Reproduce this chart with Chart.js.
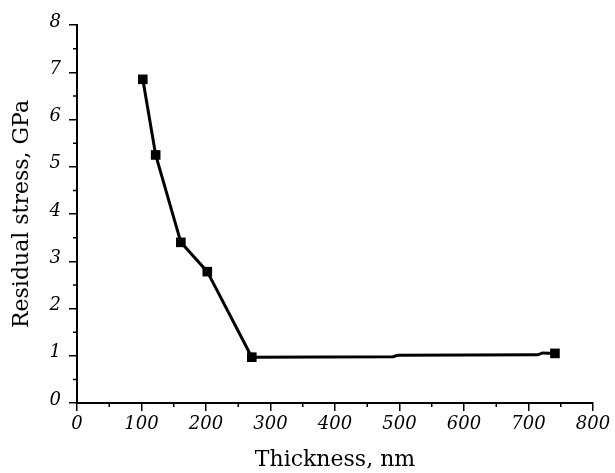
<!DOCTYPE html>
<html>
<head>
<meta charset="utf-8">
<script src="https://cdn.jsdelivr.net/npm/chart.js@4/dist/chart.umd.min.js"></script>
<style>
  html, body { margin: 0; padding: 0; background: #fff; }
  #wrap { width: 615px; height: 473px; }
</style>
</head>
<body>
<div id="wrap"><canvas id="c"></canvas></div>
<script>
// thickness (nm) and residual stress (GPa)
// points with a marker, plus a few unmarked ones where the line steps slightly
const thickness = [102, 122, 161, 202, 271, 490, 497, 714, 722, 741];
const stress    = [6.85, 5.25, 3.4, 2.78, 0.97, 0.98, 1.01, 1.02, 1.06, 1.05];
const marked    = [true, true, true, true, true, false, false, false, false, true];

const xTicks = [0, 100, 200, 300, 400, 500, 600, 700, 800];
const yTicks = [0, 1, 2, 3, 4, 5, 6, 7, 8];

const tickFont = { family: 'DejaVu Serif', size: 18, style: 'italic' };
const titleFont = { family: 'DejaVu Serif', size: 22 };

// small ticks halfway between the labelled ones
const minorTicks = {
  id: 'minorTicks',
  afterDraw(chart) {
    const { ctx, scales: { x, y } } = chart;
    ctx.save();
    ctx.strokeStyle = '#000';
    ctx.lineWidth = 1.5;
    ctx.beginPath();
    for (let i = 0; i < xTicks.length - 1; i++) {
      const px = x.getPixelForValue((xTicks[i] + xTicks[i + 1]) / 2);
      ctx.moveTo(px, x.top);
      ctx.lineTo(px, x.top + 4);
    }
    for (let i = 0; i < yTicks.length - 1; i++) {
      const py = y.getPixelForValue((yTicks[i] + yTicks[i + 1]) / 2);
      ctx.moveTo(y.right, py);
      ctx.lineTo(y.right - 4, py);
    }
    ctx.stroke();
    ctx.restore();
  }
};

new Chart(document.getElementById('c'), {
  type: 'scatter',
  data: {
    datasets: [{
      data: thickness.map((t, i) => ({ x: t, y: stress[i] })),
      showLine: true,
      borderColor: '#000',
      backgroundColor: '#000',
      borderWidth: 3,
      pointStyle: 'rect',
      pointRadius: marked.map(m => m ? 6.8 : 0),
      pointHoverRadius: marked.map(m => m ? 6.8 : 0),
      pointBorderWidth: 0,
    }],
  },
  options: {
    responsive: true,
    maintainAspectRatio: false,
    animation: false,
    events: [],
    layout: { padding: { top: 25, right: 22, left: 0, bottom: 0 } },
    plugins: { legend: { display: false }, tooltip: { enabled: false } },
    scales: {
      x: {
        type: 'linear',
        min: 0,
        max: 800,
        afterFit: (s) => { s.height = 70; },
        afterBuildTicks: (s) => { s.ticks = xTicks.map(v => ({ value: v })); },
        border: { display: true, color: '#000', width: 2 },
        grid: { display: true, drawOnChartArea: false, drawTicks: true, tickLength: 8, color: '#000', lineWidth: 1.5 },
        ticks: { color: '#000', font: tickFont, padding: 3, maxRotation: 0 },
        title: { display: true, text: 'Thickness, nm', color: '#000', font: titleFont, padding: { top: 0, bottom: 0 } },
      },
      y: {
        type: 'linear',
        min: 0,
        max: 8,
        afterFit: (s) => { s.width = 77; },
        afterBuildTicks: (s) => { s.ticks = yTicks.map(v => ({ value: v })); },
        border: { display: true, color: '#000', width: 2 },
        grid: { display: true, drawOnChartArea: false, drawTicks: true, tickLength: 8, color: '#000', lineWidth: 1.5 },
        ticks: { color: '#000', font: tickFont, padding: 8, labelOffset: -3 },
        title: { display: true, text: 'Residual stress, GPa', color: '#000', font: titleFont, padding: { top: 9, bottom: 0 } },
      },
    },
  },
  plugins: [minorTicks],
});
</script>
</body>
</html>
